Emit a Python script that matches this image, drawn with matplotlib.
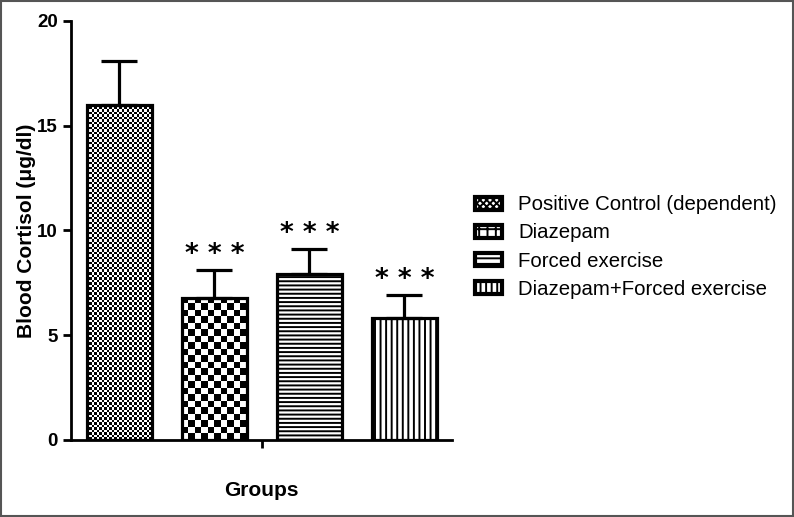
import matplotlib
matplotlib.use('Agg')
import matplotlib.pyplot as plt
import numpy as np
from matplotlib.patches import Patch, Rectangle

plt.rcParams['font.family'] = ['Liberation Sans', 'DejaVu Sans']
plt.rcParams['hatch.linewidth'] = 1.4

# data
groups = ['Positive Control (dependent)', 'Diazepam', 'Forced exercise',
          'Diazepam+Forced exercise']
cortisol = [16.0, 6.8, 7.9, 5.8]
sem = [2.1, 1.3, 1.2, 1.1]
signif = ['', '***', '***', '***']

fig = plt.figure(figsize=(7.94, 5.17), dpi=100)
ax = fig.add_axes([71/794, 1-440/517, (452-71)/794, (440-21)/517])

x = np.arange(len(groups))
w = 0.684
bars = ax.bar(x, cortisol, width=w, facecolor='none', edgecolor='black',
              linewidth=2.3, zorder=3)

# checkerboard fills for the first two bars
def checker(bar, ncol, nrow):
    x0 = bar.get_x()
    h = bar.get_height()
    img = (np.add.outer(np.arange(nrow), np.arange(ncol)) % 2).astype(float)
    im = ax.imshow(img, cmap='gray', extent=[x0, x0 + bar.get_width(), 0, h],
                   interpolation='nearest', aspect='auto', zorder=2)
    clip = Rectangle((x0, 0), bar.get_width(), h, transform=ax.transData)
    im.set_clip_path(clip)

checker(bars[0], 26, 134)
checker(bars[1], 10, 22)
bars[2].set_hatch('----')
bars[3].set_hatch('|||')

ax.errorbar(x, cortisol, yerr=[np.zeros(len(x)), sem], fmt='none',
            ecolor='black', elinewidth=2.3, capsize=13, capthick=2.3, zorder=2)

for xi, v, e, s in zip(x, cortisol, sem, signif):
    if s:
        ax.text(xi, v + e + 0.1, '* * *', ha='center', va='bottom',
                fontsize=19, family='DejaVu Sans', fontweight='bold')

ax.set_xlim(-0.51, 3.5)
ax.set_ylim(0, 20)
ax.set_yticks([0, 5, 10, 15, 20])
ax.set_xticks([1.5])
ax.set_xticklabels([''])
ax.tick_params(axis='both', direction='out', width=2, length=6, labelsize=13.5)
for lab in ax.get_yticklabels():
    lab.set_fontweight('bold')
for sp in ['top', 'right']:
    ax.spines[sp].set_visible(False)
for sp in ['left', 'bottom']:
    ax.spines[sp].set_linewidth(2)

ax.set_ylabel('Blood Cortisol (μg/dl)', fontsize=15, fontweight='bold', labelpad=1)
ax.set_xlabel('Groups', fontsize=15, fontweight='bold', labelpad=20)

handles = [Patch(facecolor='white', edgecolor='black', hatch='xxxxx', linewidth=3),
           Patch(facecolor='white', edgecolor='black', hatch='++', linewidth=3),
           Patch(facecolor='white', edgecolor='black', hatch='---', linewidth=3),
           Patch(facecolor='white', edgecolor='black', hatch='|||', linewidth=3)]
fig.legend(handles, groups, loc='center left', bbox_to_anchor=(475/794, 1-247/517),
           frameon=False, fontsize=14.7, borderpad=0, borderaxespad=0,
           handlelength=1.3, handleheight=0.6, handletextpad=0.8, labelspacing=0.45)

fig.patches.append(Rectangle((0.001, 0.001), 0.998, 0.997, transform=fig.transFigure,
                             fill=False, edgecolor='#555555', linewidth=1.5))

fig.savefig('out.png', dpi=100)
